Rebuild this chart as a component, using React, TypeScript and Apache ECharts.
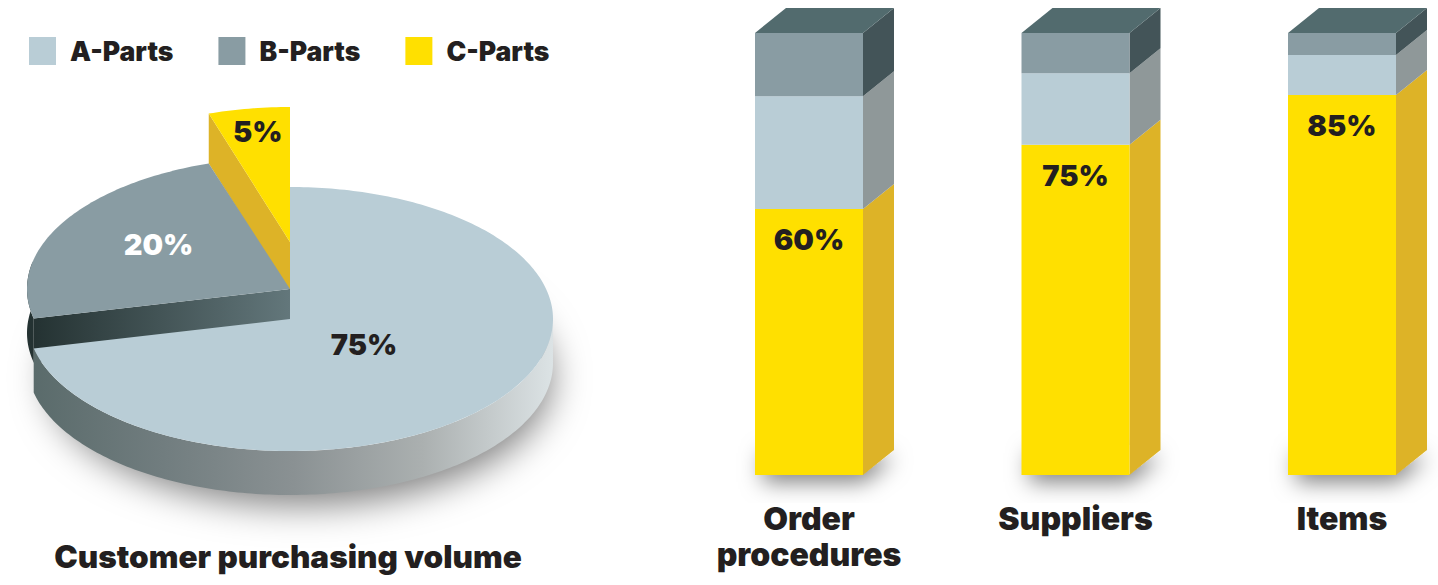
import React, { useEffect, useRef } from "react";
import * as echarts from "echarts";

// Part names and colours
const partNames = ["A-Parts", "B-Parts", "C-Parts"];

// Pie: printed labels, and each slice's share as it is actually drawn in the picture
const pieLabels = ["75%", "20%", "5%"];
const pieDrawnShares = [71.4, 23.6, 5];

// Bars: categories, printed labels, and segment heights
const barCategories = ["Order\nprocedures", "Suppliers", "Items"];
const barLabels = ["60%", "75%", "85%"];
const cHeights = [60.2, 74.7, 86];
const aHeights = [25.5, 16.2, 9];
const bHeights = [14.3, 9.1, 5];

const INK = "#231f20";
const FONT = "Inter, 'Open Sans', sans-serif";
const LABEL_FONT = `900 29px ${FONT}`;

const FRONT = { a: "#b9cdd6", b: "#899ca3", c: "#ffe000" };
const SIDE = { a: "#8f9899", b: "#435458", c: "#ddb327" };
const TOP_FACE = "#526b6e";

const PIE_CX = 290;
const PIE_RX = 263;
const PIE_RY = [132, 132, 135];
const PIE_CY = [319, 289, 242];
const PIE_WALL = 44;
const LABEL_R = [0.36, 0.57, 0.83];
const LABEL_DX = [0, -1, 2];
const LABEL_DY = [-4, -7, 0];
const pieLabelColor = [INK, "#ffffff", INK];

const BAR_W = 108;
const DX = 31;
const DY = -25;

const hgrad = (stops: [number, string][]) =>
  new echarts.graphic.LinearGradient(0, 0, 1, 0, stops.map(([offset, color]) => ({ offset, color })));

function rim(cy: number, from: number, to: number, dy = 0, ry = PIE_RY[0], rx = PIE_RX): number[][] {
  const pts: number[][] = [];
  const n = Math.max(2, Math.ceil(Math.abs(to - from)));
  for (let i = 0; i <= n; i++) {
    const t = ((from + ((to - from) * i) / n) * Math.PI) / 180;
    pts.push([PIE_CX + rx * Math.sin(t), cy - ry * Math.cos(t) + dy]);
  }
  return pts;
}

const poly = (points: number[][], style: any) => ({ type: "polygon", shape: { points }, style });

function renderPieSlice(_p: any, api: any) {
  const i = api.value(0) as number;
  if (i < 0) {
    return poly(rim(PIE_CY[0], 0, 360, PIE_WALL - 2, PIE_RY[0] - 4, PIE_RX - 12), {
      fill: "#ffffff",
      shadowBlur: 36,
      shadowOffsetX: 10,
      shadowOffsetY: 16,
      shadowColor: "rgba(0,0,0,0.5)",
    });
  }
  const start = (pieDrawnShares.slice(0, i).reduce((a, b) => a + b, 0) * 360) / 100;
  const end = start + (pieDrawnShares[i] * 360) / 100;
  const cy = PIE_CY[i];
  const ry = PIE_RY[i];
  const children: any[] = [];
  const apex = [PIE_CX, cy];
  const top = [apex, ...rim(cy, start, end, 0, ry)];
  if (i === 0) {
    const up = rim(cy, 90, end);
    const down = rim(cy, end, 90, PIE_WALL);
    children.push(
      poly([...up, ...down], {
        fill: hgrad([
          [0, "#5a6b6b"],
          [0.25, "#717d7f"],
          [0.5, "#8a9193"],
          [0.75, "#abb0b0"],
          [1, "#dce3e5"],
        ]),
      })
    );
    children.push(poly(top, { fill: FRONT.a }));
  } else if (i === 1) {
    const up = rim(cy, start, 282);
    const down = rim(cy, 282, start, PIE_WALL);
    children.push(poly([...up, ...down], { fill: "#243232" }));
    const corner = rim(cy, start, start)[0];
    children.push(
      poly([apex, corner, [corner[0], corner[1] + PIE_WALL], [apex[0], apex[1] + PIE_WALL]], {
        fill: hgrad([
          [0, "#243232"],
          [1, "#63777b"],
        ]),
      })
    );
    children.push(poly(top, { fill: FRONT.b }));
  } else {
    const corner = rim(cy, start, start, 0, ry)[0];
    const wall = 50;
    children.push(
      poly([apex, corner, [corner[0], corner[1] + wall], [apex[0], apex[1] + wall]], { fill: SIDE.c })
    );
    children.push(poly(top, { fill: FRONT.c }));
  }
  const mid = (((start + end) / 2) * Math.PI) / 180;
  children.push({
    type: "text",
    style: {
      text: pieLabels[i],
      x: PIE_CX + PIE_RX * LABEL_R[i] * Math.sin(mid) + LABEL_DX[i],
      y: cy - ry * LABEL_R[i] * Math.cos(mid) + LABEL_DY[i],
      align: "center",
      verticalAlign: "middle",
      font: LABEL_FONT,
      fill: pieLabelColor[i],
    },
  });
  return { type: "group", children };
}

function barRenderer(front: string, side: string, kind: "a" | "b" | "c") {
  return (_p: any, api: any) => {
    const cat = api.value(0);
    const [x, yLow] = api.coord([cat, api.value(1)]);
    const [, yHigh] = api.coord([cat, api.value(2)]);
    const xl = x - BAR_W / 2;
    const xr = x + BAR_W / 2;
    const children: any[] = [];
    if (kind === "c") {
      children.push(
        poly(
          [
            [xl + 8, yLow - 30],
            [xr, yLow - 30],
            [xr + DX - 1, yLow + DY + 1],
            [xr, yLow - 1],
            [xl + 8, yLow - 1],
          ],
          {
            fill: "#ffffff",
            shadowBlur: 22,
            shadowOffsetX: 0,
            shadowOffsetY: 8,
            shadowColor: "rgba(0,0,0,0.5)",
          }
        )
      );
    }
    children.push(
      poly(
        [
          [xr, yLow],
          [xr + DX, yLow + DY],
          [xr + DX, yHigh + DY],
          [xr, yHigh],
        ],
        { fill: side }
      )
    );
    children.push(
      poly(
        [
          [xl, yLow],
          [xr, yLow],
          [xr, yHigh],
          [xl, yHigh],
        ],
        { fill: front }
      )
    );
    if (kind === "b") {
      children.push(
        poly(
          [
            [xl, yHigh],
            [xr, yHigh],
            [xr + DX, yHigh + DY],
            [xl + DX, yHigh + DY],
          ],
          { fill: TOP_FACE }
        )
      );
    }
    if (kind === "c") {
      children.push({
        type: "text",
        style: {
          text: barLabels[api.value(3)],
          x,
          y: yHigh + 31,
          align: "center",
          verticalAlign: "middle",
          font: LABEL_FONT,
          fill: INK,
        },
      });
    }
    return { type: "group", children };
  };
}

export default function App() {
  const ref = useRef<HTMLDivElement>(null);
  useEffect(() => {
    document.body.style.margin = "0";
    const chart = echarts.init(ref.current!, undefined, { renderer: "svg" });
    const cData = cHeights.map((h, i) => [i, 0, h, i]);
    const aData = aHeights.map((h, i) => [i, cHeights[i], cHeights[i] + h, i]);
    const bData = bHeights.map((h, i) => [i, cHeights[i] + aHeights[i], cHeights[i] + aHeights[i] + h, i]);
    const barSeries = (name: string, data: number[][], kind: "a" | "b" | "c") => ({
      type: "custom",
      name,
      coordinateSystem: "cartesian2d",
      data,
      encode: { x: 0, y: [1, 2] },
      itemStyle: { color: FRONT[kind] },
      renderItem: barRenderer(FRONT[kind], SIDE[kind], kind),
      clip: false,
      silent: true,
      z: kind === "c" ? 2 : 3,
    });
    chart.setOption({
      animation: false,
      backgroundColor: "#ffffff",
      title: {
        text: "Customer purchasing volume",
        left: 283,
        top: 535,
        textAlign: "center",
        textStyle: { fontFamily: FONT, fontWeight: 900, fontSize: 31.5, color: INK },
      },
      legend: {
        data: partNames,
        left: 29,
        top: 37,
        padding: 0,
        itemWidth: 27,
        itemHeight: 28,
        itemGap: 45,
        icon: "rect",
        textStyle: { fontFamily: FONT, fontWeight: 900, fontSize: 26.5, color: INK, padding: [0, 0, 0, 9] },
      },
      grid: { left: 809, top: 33, width: 533, height: 442 },
      xAxis: {
        type: "category",
        data: barCategories,
        boundaryGap: false,
        axisLine: { show: false },
        axisTick: { show: false },
        splitLine: { show: false },
        axisLabel: {
          interval: 0,
          margin: 25,
          color: INK,
          fontFamily: FONT,
          fontWeight: 900,
          fontSize: 32,
          lineHeight: 36,
        },
      },
      yAxis: { type: "value", min: 0, max: 100, show: false },
      series: [
        {
          type: "custom",
          name: "pie",
          coordinateSystem: "none",
          data: [[-1], [2], [1], [0]],
          renderItem: renderPieSlice,
          silent: true,
        },
        barSeries(partNames[2], cData, "c"),
        barSeries(partNames[0], aData, "a"),
        barSeries(partNames[1], bData, "b"),
      ],
    });
    return () => chart.dispose();
  }, []);
  return <div ref={ref} style={{ position: "absolute", left: 0, top: 0, width: 1438, height: 585 }} />;
}
